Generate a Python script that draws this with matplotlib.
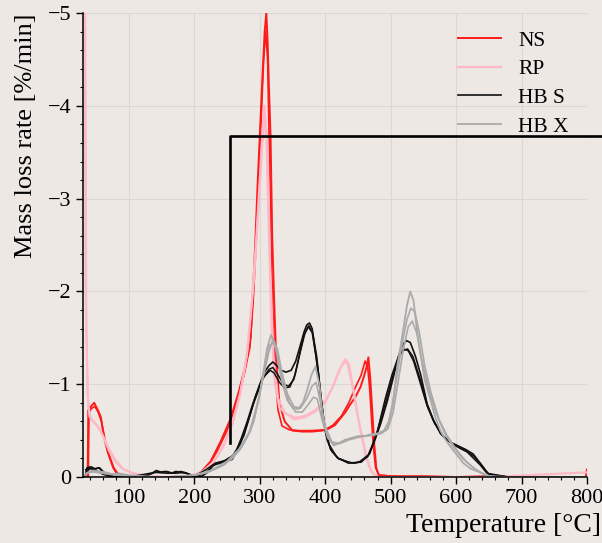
"""
Mass loss rate (DTG) curves for NS, RP, HB S and HB X samples.
"""
import matplotlib.pyplot as plt
from matplotlib.ticker import MultipleLocator

plt.rcParams['font.family'] = ['Liberation Serif', 'DejaVu Serif']

# NS (red) - two runs
ns_t1 = [37, 38, 42, 47, 52, 57, 62, 68, 76, 83, 95, 110, 130, 150, 170, 185, 200, 210,
         225, 240, 255, 268, 278, 286, 289, 293, 297, 300, 304, 307.5, 310, 312, 314,
         316.5, 319, 322, 325, 330, 338, 350, 365, 380, 395, 405, 415, 423, 431, 438,
         446, 454, 459, 463, 466, 469, 472, 475, 478, 482, 500, 550, 600, 650, 700, 750, 798, 800]
ns_r1 = [0, -0.72, -0.76, -0.8, -0.73, -0.65, -0.43, -0.26, -0.1, -0.02, -0.01, 0, 0, 0, 0,
         -0.01, -0.02, -0.05, -0.17, -0.38, -0.62, -0.92, -1.2, -1.5, -1.9, -2.5, -3.2, -3.67,
         -4.3, -4.8, -5.0, -4.7, -4.2, -3.67, -2.6, -1.9, -1.3, -0.8, -0.6, -0.5, -0.49, -0.49,
         -0.5, -0.52, -0.56, -0.63, -0.7, -0.78, -0.86, -0.97, -1.08, -1.18, -1.29, -1.05,
         -0.7, -0.35, -0.1, -0.02, -0.01, -0.01, 0, -0.01, 0, 0, 0, -0.08]
ns_t2 = [38, 39, 43, 48, 53, 58, 63, 69, 77, 85, 100, 130, 160, 190, 205, 220, 235, 250,
         265, 276, 285, 290, 295, 299, 303, 306, 309, 312, 315, 318, 321, 324, 328, 334,
         345, 360, 380, 400, 412, 425, 436, 447, 455, 461, 465, 468, 471, 474, 477, 482,
         520, 600, 700, 800]
ns_r2 = [0, -0.7, -0.74, -0.76, -0.7, -0.6, -0.42, -0.25, -0.1, -0.02, 0, 0, 0, -0.01, -0.03,
         -0.1, -0.28, -0.5, -0.8, -1.1, -1.4, -1.9, -2.6, -3.3, -4.0, -4.5, -4.8, -4.5, -3.4,
         -2.3, -1.6, -1.05, -0.72, -0.55, -0.51, -0.5, -0.5, -0.51, -0.56, -0.66, -0.8, -0.98,
         -1.1, -1.25, -1.18, -0.95, -0.6, -0.3, -0.1, -0.02, 0, 0, 0, 0]

# RP (pink) - two runs
rp_t1 = [32, 34, 37, 40, 46, 52, 58, 64, 70, 78, 88, 103, 120, 150, 180, 200, 215, 230, 245,
         258, 270, 280, 288, 295, 300, 304, 307, 310, 314, 318, 323, 330, 340, 355, 370, 385,
         400, 410, 418, 425, 431, 436, 443, 450, 456, 462, 468, 474, 480, 490, 550, 650, 800]
rp_r1 = [-6, -2.0, -0.9, -0.65, -0.6, -0.55, -0.48, -0.38, -0.28, -0.18, -0.1, -0.05, -0.02,
         0, 0, -0.02, -0.07, -0.17, -0.35, -0.58, -0.9, -1.3, -1.9, -2.6, -3.2, -3.7, -4.0,
         -3.7, -2.6, -1.6, -1.0, -0.75, -0.68, -0.64, -0.66, -0.72, -0.82, -0.95, -1.08,
         -1.2, -1.27, -1.22, -0.95, -0.65, -0.45, -0.25, -0.1, -0.03, 0, 0, 0, 0, -0.05]
rp_t2 = [33, 35, 38, 42, 48, 55, 62, 70, 80, 92, 110, 150, 190, 210, 228, 244, 258, 270, 282,
         292, 299, 304, 308, 312, 316, 321, 328, 338, 352, 368, 384, 400, 412, 421, 429, 434,
         441, 448, 455, 462, 470, 480, 520, 700, 800]
rp_r2 = [-6, -1.5, -0.75, -0.62, -0.58, -0.52, -0.42, -0.3, -0.18, -0.08, -0.03, 0, -0.01,
         -0.05, -0.14, -0.32, -0.56, -0.88, -1.4, -2.2, -3.0, -3.6, -3.9, -3.6, -2.3, -1.3,
         -0.85, -0.7, -0.62, -0.64, -0.7, -0.8, -0.98, -1.15, -1.24, -1.22, -1.0, -0.72,
         -0.46, -0.22, -0.06, 0, 0, 0, 0]

# HB S (black) - three runs
hbs_t1 = [33, 36, 42, 48, 55, 62, 70, 80, 95, 110, 125, 135, 142, 150, 158, 165, 172, 180,
          188, 195, 203, 212, 220, 228, 236, 245, 252, 258, 265, 272, 280, 290, 300, 308,
          314, 320, 326, 333, 340, 348, 355, 362, 368, 372, 376, 380, 385, 390, 396, 403,
          410, 420, 435, 445, 455, 465, 475, 485, 495, 505, 512, 518, 524, 530, 538, 546,
          556, 565, 576, 586, 596, 606, 617, 627, 637, 645, 652, 665, 700, 750, 800]
hbs_r1 = [0, -0.1, -0.11, -0.09, -0.1, -0.05, -0.02, 0, 0, 0, -0.01, -0.04, -0.07, -0.05,
          -0.06, -0.04, -0.06, -0.05, -0.04, -0.02, 0, -0.01, -0.05, -0.12, -0.15, -0.17,
          -0.2, -0.22, -0.3, -0.42, -0.58, -0.8, -1.0, -1.14, -1.2, -1.24, -1.2, -1.15,
          -1.13, -1.15, -1.25, -1.42, -1.57, -1.64, -1.66, -1.6, -1.35, -1.1, -0.65, -0.4,
          -0.28, -0.2, -0.16, -0.15, -0.17, -0.22, -0.38, -0.58, -0.82, -1.1, -1.3, -1.42,
          -1.47, -1.45, -1.3, -1.1, -0.78, -0.62, -0.47, -0.4, -0.35, -0.31, -0.27, -0.2,
          -0.13, -0.06, -0.02, 0, 0, 0, 0]
hbs_t2 = [34, 40, 47, 54, 62, 72, 90, 120, 140, 155, 170, 185, 200, 215, 230, 245, 258, 270,
          282, 294, 306, 316, 322, 330, 338, 346, 354, 362, 369, 375, 381, 387, 393, 400,
          408, 420, 440, 455, 468, 480, 492, 502, 512, 520, 527, 535, 545, 556, 567, 580,
          592, 604, 616, 628, 640, 650, 680, 750, 800]
hbs_r2 = [-0.08, -0.09, -0.08, -0.1, -0.04, -0.01, 0, 0, -0.05, -0.06, -0.04, -0.05, -0.01,
          -0.03, -0.13, -0.16, -0.19, -0.35, -0.6, -0.88, -1.08, -1.15, -1.12, -1.02, -0.96,
          -0.97, -1.1, -1.35, -1.55, -1.63, -1.55, -1.3, -0.9, -0.5, -0.3, -0.2, -0.15,
          -0.16, -0.25, -0.5, -0.85, -1.1, -1.3, -1.38, -1.36, -1.25, -1.02, -0.76, -0.58,
          -0.44, -0.37, -0.33, -0.28, -0.22, -0.12, -0.03, 0, 0, 0]
hbs_t3 = [35, 42, 50, 60, 75, 100, 140, 160, 180, 200, 218, 232, 248, 262, 276, 290, 304,
          314, 320, 328, 336, 344, 352, 360, 367, 374, 380, 386, 392, 398, 406, 418, 435,
          452, 466, 478, 490, 500, 510, 518, 526, 534, 544, 555, 566, 578, 590, 602, 614,
          626, 638, 648, 680, 800]
hbs_r3 = [-0.06, -0.1, -0.07, -0.03, 0, 0, -0.05, -0.04, -0.06, -0.01, -0.08, -0.15, -0.18,
          -0.25, -0.45, -0.78, -1.05, -1.16, -1.18, -1.1, -1.0, -0.98, -1.05, -1.3, -1.52,
          -1.62, -1.56, -1.3, -0.95, -0.6, -0.35, -0.21, -0.15, -0.16, -0.24, -0.45, -0.75,
          -1.0, -1.25, -1.36, -1.38, -1.3, -1.08, -0.8, -0.6, -0.46, -0.38, -0.34, -0.3,
          -0.25, -0.14, -0.04, 0, 0]

# HB X (grey) - three runs
hbx_t1 = [33, 38, 45, 55, 65, 75, 85, 100, 120, 140, 160, 180, 200, 215, 230, 245, 260,
          270, 280, 291, 300, 306, 311, 317, 323, 329, 335, 342, 350, 358, 366, 373, 379,
          385, 391, 397, 405, 413, 420, 430, 440, 450, 460, 470, 480, 490, 497, 503, 510,
          515, 520, 525, 530, 535, 540, 545, 552, 561, 568, 576, 584, 591, 600, 611, 622,
          637, 650, 665, 700, 750, 800]
hbx_r1 = [-0.02, -0.05, -0.07, -0.06, -0.05, -0.03, -0.04, -0.02, -0.01, 0, 0, -0.01, -0.02,
          -0.04, -0.08, -0.13, -0.22, -0.3, -0.42, -0.6, -0.9, -1.15, -1.38, -1.53, -1.45,
          -1.2, -1.0, -0.83, -0.75, -0.73, -0.8, -0.95, -1.1, -1.19, -1.0, -0.6, -0.42,
          -0.34, -0.36, -0.4, -0.42, -0.44, -0.44, -0.46, -0.47, -0.5, -0.6, -0.75, -1.19,
          -1.4, -1.62, -1.85, -2.0, -1.9, -1.6, -1.35, -1.05, -0.83, -0.65, -0.5, -0.4,
          -0.33, -0.25, -0.15, -0.09, -0.05, -0.01, 0, 0, 0, 0]
hbx_t2 = [34, 40, 50, 62, 78, 100, 130, 170, 200, 220, 240, 258, 272, 286, 298, 308, 315,
          321, 328, 336, 345, 355, 365, 374, 382, 388, 395, 404, 414, 426, 440, 456, 472,
          486, 496, 504, 512, 520, 527, 533, 540, 548, 558, 570, 582, 595, 610, 626, 640,
          655, 700, 800]
hbx_r2 = [-0.03, -0.06, -0.05, -0.04, -0.03, -0.01, 0, 0, -0.02, -0.05, -0.12, -0.2, -0.32,
          -0.5, -0.82, -1.2, -1.42, -1.45, -1.3, -1.05, -0.8, -0.7, -0.7, -0.78, -0.86,
          -0.84, -0.62, -0.42, -0.35, -0.38, -0.42, -0.44, -0.45, -0.47, -0.52, -0.7, -1.05,
          -1.4, -1.62, -1.68, -1.55, -1.25, -0.95, -0.68, -0.48, -0.33, -0.2, -0.1, -0.04,
          0, 0, 0]
hbx_t3 = [35, 45, 60, 80, 110, 160, 200, 225, 250, 268, 284, 296, 306, 314, 320, 327, 334,
          342, 352, 362, 372, 380, 386, 393, 400, 410, 422, 436, 452, 468, 484, 495, 503,
          511, 518, 525, 531, 537, 544, 552, 562, 574, 586, 600, 615, 632, 648, 680, 800]
hbx_r3 = [-0.04, -0.06, -0.04, -0.02, 0, 0, -0.02, -0.07, -0.17, -0.3, -0.48, -0.78, -1.1,
          -1.35, -1.48, -1.38, -1.12, -0.9, -0.76, -0.74, -0.85, -0.98, -1.02, -0.8, -0.55,
          -0.38, -0.36, -0.4, -0.43, -0.45, -0.47, -0.52, -0.8, -1.15, -1.45, -1.7, -1.82,
          -1.78, -1.55, -1.2, -0.9, -0.62, -0.45, -0.3, -0.17, -0.07, -0.01, 0, 0]

# bracket marking the zoomed region
bracket_t = [255, 255, 830]
bracket_r = [-0.37, -3.67, -3.67]

bg = '#ede8e3'
fig = plt.figure(figsize=(6.02, 5.43), dpi=100, facecolor=bg)
ax = fig.add_axes([0.138, 0.1215, 0.837, 0.8545], facecolor=bg)

ns_col, rp_col, hbs_col, hbx_col = '#ff1a1a', '#ffb8c6', '#111111', '#aaaaaa'

ax.plot(ns_t1, ns_r1, color=ns_col, lw=1.4, label='NS')
ax.plot(ns_t2, ns_r2, color=ns_col, lw=1.2)
ax.plot(rp_t1, rp_r1, color=rp_col, lw=1.6, label='RP')
ax.plot(rp_t2, rp_r2, color=rp_col, lw=1.4)
ax.plot(hbs_t1, hbs_r1, color=hbs_col, lw=1.2, label='HB S')
ax.plot(hbs_t2, hbs_r2, color=hbs_col, lw=1.1)
ax.plot(hbs_t3, hbs_r3, color=hbs_col, lw=1.1)
ax.plot(hbx_t1, hbx_r1, color=hbx_col, lw=1.3, label='HB X')
ax.plot(hbx_t2, hbx_r2, color=hbx_col, lw=1.2)
ax.plot(hbx_t3, hbx_r3, color=hbx_col, lw=1.2)

ax.plot(bracket_t, bracket_r, color='black', lw=1.9, clip_on=False, zorder=5)

ax.set_xlim(30, 800)
ax.set_ylim(0, -5)
ax.xaxis.set_major_locator(MultipleLocator(100))
ax.xaxis.set_minor_locator(MultipleLocator(20))
ax.yaxis.set_major_locator(MultipleLocator(1))
ax.yaxis.set_minor_locator(MultipleLocator(0.2))
ax.grid(True, which='major', color='#dcd7d2', lw=0.8)
ax.set_axisbelow(True)

for side in ['top', 'right']:
    ax.spines[side].set_visible(False)
for side in ['left', 'bottom']:
    ax.spines[side].set_linewidth(1.1)

ax.tick_params(which='major', direction='out', length=5, width=1, labelsize=16)
ax.tick_params(which='minor', direction='out', length=2.5, width=0.8)

ax.set_xlabel('Temperature [°C]', fontsize=20, loc='right')
ax.set_ylabel('Mass loss rate [%/min]', fontsize=19, loc='top')
ax.xaxis.set_label_coords(1.028, -0.077)
ax.yaxis.set_label_coords(-0.092, 1.0)

ax.legend(loc='upper left', bbox_to_anchor=(0.705, 1.004), frameon=False, fontsize=15.5,
          handlelength=2.0, handletextpad=0.8, labelspacing=0.40)

plt.savefig('out.png', dpi=100, facecolor=bg)
plt.close()
